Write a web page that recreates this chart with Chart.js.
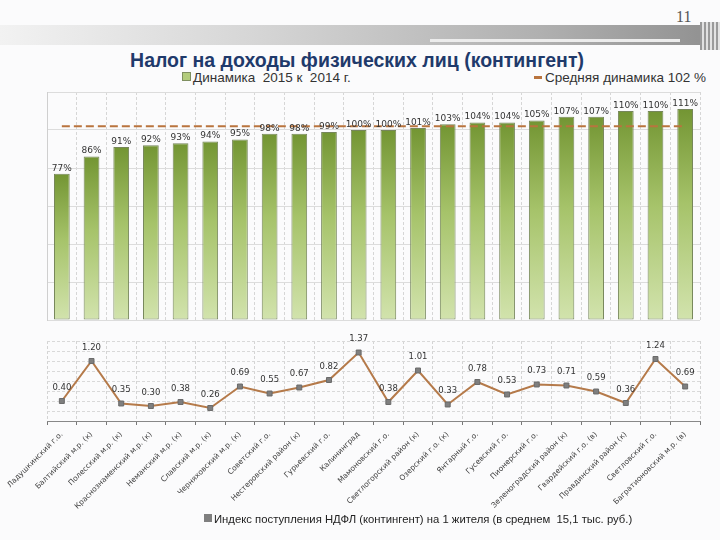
<!DOCTYPE html>
<html>
<head>
<meta charset="utf-8">
<script src="https://cdn.jsdelivr.net/npm/chart.js@4.4.1/dist/chart.umd.min.js"></script>
<style>
  body { margin: 0; width: 720px; height: 540px; background: #fbfbfc; position: relative; overflow: hidden; font-family: "DejaVu Sans", sans-serif; }
  .abs { position: absolute; }
  #band { left: 0; top: 25px; width: 720px; height: 20px; background: linear-gradient(to right, #f2f2f2 0%, #d6d6d6 35%, #b0b0b0 75%, #8f8f8f 100%); }
  #band2 { left: 430px; top: 39px; width: 250px; height: 3px; background: #ececec; }
  #stripes { left: 700px; top: 22px; width: 20px; height: 28px; background: repeating-linear-gradient(to right, #9a9a9a 0 2px, #e2e2e2 2px 4px); }
  #pagenum { left: 676px; top: 8px; font-family: "Liberation Serif", serif; font-size: 16px; color: #555; }
  #title { left: 0; width: 714px; top: 49px; text-align: center; font-family: "Liberation Sans", sans-serif; font-weight: bold; font-size: 19.5px; color: #1f3a6b; }
  .legend { font-family: "Liberation Sans", sans-serif; font-size: 13.5px; color: #333; white-space: pre; }
  .sq { display: inline-block; width: 7px; height: 7px; margin-right: 2px; vertical-align: 1px; }
  .dash { display: inline-block; width: 8px; height: 3px; margin-right: 3px; vertical-align: 3px; background: #b9743e; }
  #top { left: 0; top: 80px; }
  #bottom { left: 0; top: 330px; }
</style>
</head>
<body>
<div id="band" class="abs"></div>
<div id="band2" class="abs"></div>
<div id="stripes" class="abs"></div>
<div id="pagenum" class="abs">11</div>
<div id="title" class="abs">Налог на доходы физических лиц (контингент)</div>
<div class="abs legend" style="left:182px;top:70px"><span class="sq" style="background:#b3cc7c;border:1px solid #7f8f60"></span>Динамика  2015 к  2014 г.</div>
<div class="abs legend" style="left:534px;top:70px"><span class="dash"></span>Средняя динамика 102 %</div>
<canvas id="top" class="abs" width="720" height="250"></canvas>
<canvas id="bottom" class="abs" width="720" height="190"></canvas>
<div class="abs legend" style="left:204px;top:513px;font-size:11.3px;color:#222"><span class="sq" style="background:#7f7f7f;width:8px;height:8px"></span>Индекс поступления НДФЛ (контингент) на 1 жителя (в среднем  15,1 тыс. руб.)</div>

<script>
// municipalities, left to right
const districts = [
  "Ладушкинский г.о.", "Балтийский м.р. (к)", "Полесский м.р. (к)", "Краснознаменский м.р. (к)",
  "Неманский м.р. (к)", "Славский м.р. (к)", "Черняховский м.р. (к)", "Советский г.о.",
  "Нестеровский район (к)", "Гурьевский г.о.", "Калининград", "Мамоновский г.о.",
  "Светлогорский район (к)", "Озерский г.о. (к)", "Янтарный г.о.", "Гусевский г.о.",
  "Пионерский г.о.", "Зеленоградский район (к)", "Гвардейский г.о. (в)", "Правдинский район (к)",
  "Светловский г.о.", "Багратионовский м.р. (в)"
];

// dynamics 2015 vs 2014, %
const dynamics = [77, 86, 91, 92, 93, 94, 95, 98, 98, 99, 100, 100, 101, 103, 104, 104, 105, 107, 107, 110, 110, 111];
const avgDynamics = 102;

// income tax receipts index per inhabitant
const perCapita = [0.40, 1.20, 0.35, 0.30, 0.38, 0.26, 0.69, 0.55, 0.67, 0.82, 1.37, 0.38, 1.01, 0.33, 0.78, 0.53, 0.73, 0.71, 0.59, 0.36, 1.24, 0.69];

// draws value labels above bars / points
const valueLabels = {
  id: 'valueLabels',
  afterDatasetsDraw(chart) {
    const ctx = chart.ctx;
    chart.data.datasets.forEach((ds, i) => {
      if (!ds.labelFormat) return;
      const meta = chart.getDatasetMeta(i);
      ctx.save();
      ctx.font = ds.labelFont;
      ctx.fillStyle = '#333';
      ctx.textAlign = 'center';
      ctx.textBaseline = 'bottom';
      meta.data.forEach((el, j) => {
        ctx.fillText(ds.labelFormat(ds.data[j]), el.x, el.y - ds.labelGap);
      });
      ctx.restore();
    });
  }
};

function barGradient(context) {
  const chart = context.chart;
  const y = chart.scales.y;
  const fallback = '#a8c46c';
  if (!y || context.raw === undefined) return fallback;
  const top = y.getPixelForValue(context.raw);
  const bottom = y.getPixelForValue(0);
  if (!isFinite(top) || !isFinite(bottom)) return fallback;
  const g = chart.ctx.createLinearGradient(0, top, 0, bottom);
  g.addColorStop(0, '#739533');
  g.addColorStop(0.45, '#a6c36a');
  g.addColorStop(1, '#d2e3ad');
  return g;
}

new Chart(document.getElementById('top'), {
  type: 'bar',
  data: {
    labels: districts,
    datasets: [
      {
        type: 'line',
        data: districts.map(() => avgDynamics),
        borderColor: '#b9743e',
        borderWidth: 2,
        borderDash: [8, 4],
        pointRadius: 0,
        order: 0
      },
      {
        data: dynamics,
        backgroundColor: barGradient,
        borderColor: '#76865a',
        borderWidth: 1,
        borderSkipped: false,
        barPercentage: 0.53,
        categoryPercentage: 1,
        labelFormat: v => v + '%',
        labelFont: '9px "DejaVu Sans"',
        labelGap: 1,
        order: 1
      }
    ]
  },
  options: {
    responsive: false,
    animation: false,
    layout: { padding: { top: 12, left: 47, right: 20, bottom: 10 } },
    plugins: { legend: { display: false }, tooltip: { enabled: false } },
    scales: {
      x: {
        ticks: { display: false },
        grid: { color: '#d6d6d6', drawTicks: false, offset: true },
        border: { display: false, dash: [3, 2] },
        afterFit: s => { s.height = 0; }
      },
      y: {
        min: 0, max: 120,
        ticks: { display: false, stepSize: 20 },
        grid: { color: '#dcdcdc', drawTicks: false },
        border: { color: '#cfcfcf' },
        afterFit: s => { s.width = 0; }
      }
    }
  },
  plugins: [valueLabels]
});

new Chart(document.getElementById('bottom'), {
  type: 'line',
  data: {
    labels: districts,
    datasets: [{
      data: perCapita,
      borderColor: '#b57a4a',
      borderWidth: 2,
      pointStyle: 'rect',
      pointRadius: 3.5,
      pointBackgroundColor: '#7f7f7f',
      pointBorderColor: '#6a6a6a',
      pointBorderWidth: 1,
      labelFormat: v => v.toFixed(2),
      labelFont: '8.5px "DejaVu Sans"',
      labelGap: 9
    }]
  },
  options: {
    responsive: false,
    animation: false,
    layout: { padding: { top: 11, left: 47, right: 20, bottom: 0 } },
    plugins: { legend: { display: false }, tooltip: { enabled: false } },
    scales: {
      x: {
        offset: true,
        ticks: { font: { family: 'DejaVu Sans', size: 7.5 }, color: '#404040', minRotation: 45, maxRotation: 45, autoSkip: false, padding: 5 },
        grid: { color: '#d4d4d4', offset: true, tickLength: 4, tickColor: '#777' },
        border: { display: true, color: '#888', dash: [3, 2] },
        afterFit: s => { s.height = 99; }
      },
      y: {
        min: 0, max: 1.6,
        ticks: { display: false, stepSize: 0.2 },
        grid: { color: '#d9d9d9', drawTicks: false },
        border: { display: false, dash: [3, 2] },
        afterFit: s => { s.width = 0; }
      }
    }
  },
  plugins: [valueLabels]
});
</script>
</body>
</html>
